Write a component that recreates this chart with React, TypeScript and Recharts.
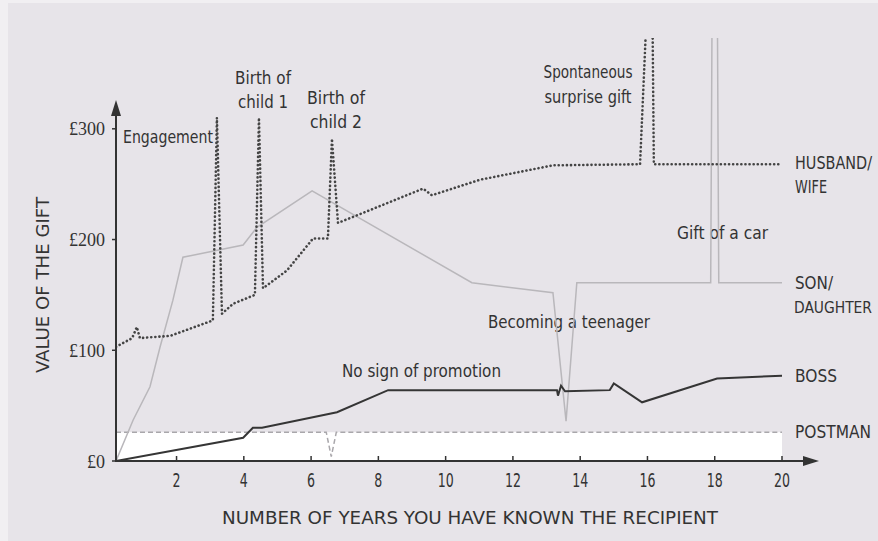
import React from "react";
import { LineChart, Line, XAxis, YAxis, ReferenceArea, ReferenceLine } from "recharts";

// values: years known vs. value of the gift (£)
const husbandYears = [0.2, 0.68, 0.82, 0.91, 1.81, 3.08, 3.2, 3.35, 3.68, 4.33, 4.45, 4.57, 5.28, 6.06, 6.5, 6.62, 6.8, 7.54, 9.33, 9.59, 11.02, 13.19, 15.78, 15.97, 16.15, 16.19, 20];
const husbandValues = [103, 111, 121, 111, 113, 127, 310, 133, 142, 150, 310, 156, 172, 201, 201, 291, 215, 224, 246, 240, 254, 267, 268, 400, 400, 268, 268];

const sonYears = [0.2, 0.71, 1.21, 1.51, 1.89, 2.19, 3.98, 4.39, 6.03, 10.78, 13.19, 13.58, 13.9, 17.88, 17.92, 18.08, 18.12, 20];
const sonValues = [0, 37, 67, 103, 145, 184, 195, 211, 244, 161, 152, 36, 161, 161, 400, 400, 161, 161];

const bossYears = [0.2, 3.98, 4.27, 4.54, 6.77, 8.29, 13.31, 13.34, 13.43, 13.55, 14.88, 15.0, 15.84, 18.07, 20];
const bossValues = [0, 21, 30, 30, 44, 64, 64, 59, 68, 63, 64, 70, 53, 74.5, 77];

const postmanYears = [0.2, 6.45, 6.6, 6.75, 20];
const postmanValues = [26, 26, 4, 26, 26];

const xTicks = [2, 4, 6, 8, 10, 12, 14, 16, 18, 20];
const yTicks = [0, 100, 200, 300];

const W = 878;
const H = 541;
const INK = "#333333";
const AXIS = "#333333";
const NARROW = "'Liberation Sans Narrow', 'DejaVu Sans Condensed', 'Roboto Condensed', Roboto, sans-serif";
const SERIF = "'Liberation Serif', 'DejaVu Serif', serif";

const toPoints = (xs: number[], ys: number[]) => xs.map((x, i) => ({ x, v: ys[i] }));

const husband = toPoints(husbandYears, husbandValues);
const son = toPoints(sonYears, sonValues);
const boss = toPoints(bossYears, bossValues);
const postman = toPoints(postmanYears, postmanValues);

function Txt({ x, y, w, anchor = "start", size = 17, rotate, children }: any) {
  return (
    <text
      x={x}
      y={y}
      textAnchor={anchor}
      dominantBaseline="central"
      fontFamily={NARROW}
      fontSize={size}
      fill={INK}
      textLength={w}
      lengthAdjust="spacingAndGlyphs"
      transform={rotate ? `rotate(${rotate} ${x} ${y})` : undefined}
    >
      {children}
    </text>
  );
}

// axis line with an arrow head at its end
function ArrowShape(props: any) {
  const { x1, y1, x2, y2 } = props;
  const len = Math.hypot(x2 - x1, y2 - y1) || 1;
  const ux = (x2 - x1) / len;
  const uy = (y2 - y1) / len;
  const head = 16;
  const half = 5;
  const bx = x2 - ux * head;
  const by = y2 - uy * head;
  const px = -uy;
  const py = ux;
  return (
    <g>
      <line x1={x1 - ux} y1={y1 - uy} x2={bx} y2={by} stroke={AXIS} strokeWidth={2} />
      <polygon
        points={`${x2},${y2} ${bx + px * half},${by + py * half} ${bx - px * half},${by - py * half}`}
        fill={AXIS}
      />
    </g>
  );
}

const XTick = (p: any) => (
  <text
    x={p.x}
    y={p.y}
    textAnchor="middle"
    dominantBaseline="central"
    fontFamily={NARROW}
    fontSize={19}
    fill={INK}
    textLength={String(p.payload.value).length * 8}
    lengthAdjust="spacingAndGlyphs"
  >
    {p.payload.value}
  </text>
);

const YTick = (p: any) => {
  const label = `£${p.payload.value}`;
  return (
    <text
      x={p.x}
      y={p.y}
      textAnchor="end"
      dominantBaseline="central"
      fontFamily={SERIF}
      fontSize={19}
      fill={INK}
      textLength={label.length * 9}
      lengthAdjust="spacingAndGlyphs"
    >
      {label}
    </text>
  );
};

function Annotations() {
  return (
    <g>
      <Txt x={123} y={137} w={90}>Engagement</Txt>
      <Txt x={263} y={78} w={56} anchor="middle">Birth of</Txt>
      <Txt x={263} y={102} w={50} anchor="middle">child 1</Txt>
      <Txt x={336} y={98} w={58} anchor="middle">Birth of</Txt>
      <Txt x={336} y={122} w={52} anchor="middle">child 2</Txt>
      <Txt x={588} y={72} w={89} anchor="middle">Spontaneous</Txt>
      <Txt x={588} y={97} w={87} anchor="middle">surprise gift</Txt>
      <Txt x={677} y={233} w={91}>Gift of a car</Txt>
      <Txt x={488} y={322} w={162}>Becoming a teenager</Txt>
      <Txt x={342} y={371} w={159}>No sign of promotion</Txt>

      <Txt x={795} y={163} w={77}>HUSBAND/</Txt>
      <Txt x={795} y={187} w={32}>WIFE</Txt>
      <Txt x={795} y={283} w={38}>SON/</Txt>
      <Txt x={794} y={308} w={78} size={15}>DAUGHTER</Txt>
      <Txt x={795} y={376} w={42}>BOSS</Txt>
      <Txt x={795} y={432} w={76}>POSTMAN</Txt>

      <Txt x={470} y={517} w={496} size={18} anchor="middle">NUMBER OF YEARS YOU HAVE KNOWN THE RECIPIENT</Txt>
      <Txt x={42} y={285} w={176} size={18} anchor="middle" rotate={-90}>VALUE OF THE GIFT</Txt>
    </g>
  );
}

export default function App() {
  return (
    <div style={{ position: "absolute", left: 0, top: 0, width: W, height: H, background: "#f1eff2", overflow: "hidden" }}>
      <div style={{ position: "absolute", left: 8, top: 3, right: 0, bottom: 0, background: "#e7e4e9" }} />
      <div style={{ position: "absolute", left: 0, top: 0 }}>
        <LineChart width={W} height={H} margin={{ top: 38, right: 59, bottom: 40, left: 56 }}>
          <XAxis
            type="number"
            dataKey="x"
            domain={[0.2, 21.1]}
            allowDataOverflow
            ticks={xTicks}
            interval={0}
            axisLine={false}
            tickSize={-5}
            tickMargin={24}
            tickLine={{ stroke: AXIS, strokeWidth: 1.5 }}
            tick={XTick}
            height={40}
          />
          <YAxis
            type="number"
            domain={[0, 382]}
            allowDataOverflow
            ticks={yTicks}
            interval={0}
            axisLine={false}
            tickSize={4}
            tickMargin={7}
            tickLine={{ stroke: AXIS, strokeWidth: 1.5 }}
            tick={YTick}
            width={60}
          />
          <ReferenceArea x1={0.2} x2={20} y1={0} y2={26} fill="#ffffff" fillOpacity={1} stroke="none" />
          <Line
            data={postman}
            dataKey="v"
            type="linear"
            stroke="#a9a7ab"
            strokeWidth={1.5}
            strokeDasharray="5 3"
            dot={false}
            isAnimationActive={false}
          />
          <Line
            data={son}
            dataKey="v"
            type="linear"
            stroke="#b9b7bb"
            strokeWidth={1.5}
            dot={false}
            isAnimationActive={false}
          />
          <Line
            data={boss}
            dataKey="v"
            type="linear"
            stroke="#353535"
            strokeWidth={2}
            dot={false}
            isAnimationActive={false}
          />
          <Line
            data={husband}
            dataKey="v"
            type="linear"
            stroke="#444444"
            strokeWidth={2.6}
            strokeDasharray="0.1 4"
            strokeLinecap="round"
            dot={false}
            isAnimationActive={false}
          />
          <ReferenceLine segment={[{ x: 0.2, y: 0 }, { x: 0.2, y: 326 }]} shape={ArrowShape} />
          <ReferenceLine segment={[{ x: 0.2, y: 0 }, { x: 21.1, y: 0 }]} shape={ArrowShape} />
          <Annotations />
        </LineChart>
      </div>
    </div>
  );
}
